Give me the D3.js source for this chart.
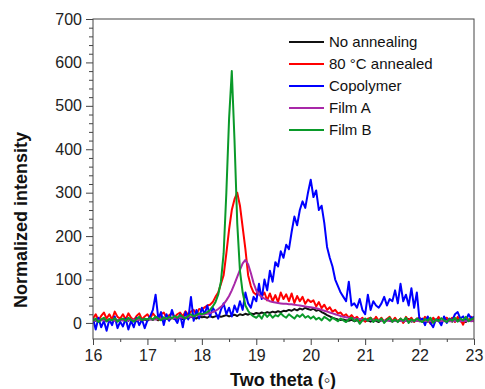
<!DOCTYPE html>
<html>
<head>
<meta charset="utf-8">
<script src="https://cdn.jsdelivr.net/npm/d3@7"></script>
<style>
  body { margin: 0; background: #fff; }
  svg { display: block; font-family: Arial, "Liberation Sans", sans-serif; }
</style>
</head>
<body>
<div id="chart"></div>
<script>
// two theta from 16 to 23 in steps of 0.05 (141 points)
var twoTheta = d3.range(0, 141).map(function (i) { return +(16 + i * 0.05).toFixed(2); });

var noAnnealing = [
  8, 5, 10, 6, 9, 4, 8, 7, 10, 5, 8,
  6, 9, 5, 10, 7, 4, 9, 6, 8, 5,
  9, 7, 10, 6, 11, 8, 10, 7, 12, 9,
  10, 12, 9, 13, 11, 14, 12, 10, 15, 13,
  14, 12, 16, 13, 15, 17, 14, 16, 18, 15,
  17, 19, 16, 20, 18, 21, 19, 22, 20, 23,
  21, 24, 22, 25, 23, 26, 24, 27, 25, 28,
  27, 30, 28, 32, 29, 33, 31, 35, 32, 30,
  33, 28, 30, 25, 22, 18, 15, 12, 10, 8,
  7, 8, 6, 5, 7, 4, 6, 5, 7, 4,
  6, 3, 8, 5, 2, 7, 4, 9, 5, 3,
  7, 4, 8, 2, 6, 9, 3, 5, 7, 4,
  6, 8, 3, 5, 9, 4, 7, 2, 6, 8,
  5, 3, 7, 9, 4, 6, 2, 8, 5, 7
];

var annealed80 = [
  10, 20, 6, 16, 24, 10, 20, 8, 26, 14, 10,
  20, 8, 22, 12, 6, 16, 22, 8, 15, 20,
  10, 22, 14, 8, 20, 24, 12, 18, 22, 14,
  20, 24, 15, 27, 18, 26, 30, 20, 32, 30,
  36, 40, 42, 48, 60, 70, 90, 110, 160, 215,
  260, 285, 300, 270, 220, 170, 110, 85, 70, 65,
  78, 62, 70, 52, 68, 50, 64, 48, 70, 55,
  66, 50, 68, 46, 62, 50, 60, 44, 54, 48,
  52, 38, 48, 34, 42, 30, 36, 26, 30, 22,
  24, 16, 20, 12, 18, 10, 14, 6, 12, 3,
  10, 12, 4, 14, 5, 12, 2, 9, 14, 4,
  12, 3, 10, 0, 14, 5, 12, 2, 10, 12,
  4, 14, 8, -2, 12, 5, 14, 2, 9, 12,
  5, 12, 2, 14, 8, -4, 12, 5, 14, 2
];

var copolymer = [
  10, -15, 12, -10, 5, -18, 8, -5, 15, -12, 3,
  -8, 10, -15, 5, -10, 12, -5, 8, -12, 6,
  15, 30, 65, 10, 25, -5, 20, 5, 30, 10,
  0, 20, -10, 25, 8, 60, 5, 30, 10, 35,
  20, 40, 15, 35, 25, 10, 30, 45, 20, 35,
  15, 40, 25, 50, 30, 70, 45, 35, 60, 50,
  90, 55, 100, 75, 120, 95, 140, 130, 165, 150,
  180, 170, 210, 245, 225, 260, 280, 265, 300, 330,
  290, 305, 260, 270, 230, 175, 150, 130, 100, 85,
  70, 60, 50, 95, 40, 45, 35, 55, 30, 20,
  65, 30, 50, 40, 35, 45, 60, 40, 55, 50,
  75, 45, 90, 50, 65, 40, 80, 35, 70, 5,
  10, -5, 15, 0, -10, 8, 5, -5, 15, 0,
  10, 5, 20, 25, 10, 15, 5, 20, 10, 15
];

var filmA = [
  5, 6, 5, 7, 6, 5, 6, 7, 5, 6, 7,
  6, 7, 6, 8, 7, 6, 8, 7, 8, 9,
  8, 9, 8, 10, 9, 10, 11, 10, 11, 12,
  12, 13, 12, 14, 15, 14, 16, 17, 18, 19,
  20, 21, 23, 25, 28, 32, 37, 43, 52, 62,
  75, 90, 106, 122, 137, 145, 135, 115, 92, 75,
  65, 60, 56, 53, 50, 48, 47, 46, 45, 44,
  44, 43, 43, 42, 41, 40, 39, 38, 37, 36,
  35, 34, 32, 30, 28, 26, 24, 22, 20, 18,
  16, 14, 13, 12, 11, 10, 9, 9, 8, 8,
  7, 7, 6, 6, 6, 5, 5, 5, 5, 5,
  5, 4, 5, 4, 5, 4, 5, 4, 5, 4,
  4, 5, 4, 5, 4, 5, 4, 5, 4, 5,
  4, 5, 4, 5, 4, 5, 4, 5, 4, 5
];

var filmB = [
  5, 10, 2, 8, 12, 4, 9, 6, 11, 3, 8,
  10, 5, 12, 7, 3, 9, 14, 6, 10, 8,
  12, 8, 15, 10, 6, 13, 9, 14, 11, 16,
  12, 18, 14, 10, 16, 20, 15, 18, 22, 20,
  22, 25, 30, 38, 48, 65, 95, 160, 300, 470,
  580, 420, 230, 120, 70, 40, 28, 20, 15, 12,
  18, 10, 22, 14, 20, 12, 18, 15, 22, 16,
  12, 20, 15, 10, 18, 14, 20, 12, 16, 10,
  15, 8, 12, 6, 14, 10, 5, 12, 8, 4,
  10, 6, 2, 8, 12, 4, 9, -2, 6, 10,
  5, 12, 2, 8, 4, 10, 0, 7, 12, 3,
  8, 2, 10, 5, 12, 0, 8, 4, 10, 6,
  2, 9, 5, 12, 0, 8, 4, 11, 6, 2,
  9, 5, 12, 3, 10, 6, 14, 4, 8, 12
];

var seriesNames = ["No annealing", "80 \u00B0C annealed", "Copolymer", "Film A", "Film B"];
var seriesValues = [noAnnealing, annealed80, copolymer, filmA, filmB];
var seriesColors = ["#111111", "#ff0000", "#0000ff", "#a828a8", "#0a9a2a"];

var xTicks = [16, 17, 18, 19, 20, 21, 22, 23];
var yTicks = [0, 100, 200, 300, 400, 500, 600, 700];

var width = 485, height = 389;
var margin = { top: 19, right: 11, bottom: 50, left: 93 };

var svg = d3.select("#chart")
  .append("svg")
  .attr("width", width)
  .attr("height", height);

var x = d3.scaleLinear().domain([16, 23]).range([margin.left, width - margin.right]);
var y = d3.scaleLinear().domain([-37, 700]).range([height - margin.bottom, margin.top]);

// clip so lines stay in the frame
svg.append("clipPath").attr("id", "plotclip")
  .append("rect")
  .attr("x", margin.left).attr("y", margin.top)
  .attr("width", width - margin.left - margin.right)
  .attr("height", height - margin.top - margin.bottom);

var line = d3.line()
  .x(function (d) { return x(d[0]); })
  .y(function (d) { return y(d[1]); });

var plot = svg.append("g").attr("clip-path", "url(#plotclip)");
seriesValues.forEach(function (vals, i) {
  plot.append("path")
    .datum(twoTheta.map(function (t, j) { return [t, vals[j]]; }))
    .attr("d", line)
    .attr("fill", "none")
    .attr("stroke", seriesColors[i])
    .attr("stroke-width", 2)
    .attr("stroke-linejoin", "round");
});

// frame
svg.append("rect")
  .attr("x", margin.left).attr("y", margin.top)
  .attr("width", width - margin.left - margin.right)
  .attr("height", height - margin.top - margin.bottom)
  .attr("fill", "none")
  .attr("stroke", "#444")
  .attr("stroke-width", 1);

// minor ticks
var xMinor = svg.append("g")
  .attr("transform", "translate(0," + (height - margin.bottom) + ")")
  .call(d3.axisBottom(x).tickValues(d3.range(16.5, 23, 1)).tickSize(3).tickFormat(""));
var yMinor = svg.append("g")
  .attr("transform", "translate(" + margin.left + ",0)")
  .call(d3.axisLeft(y).tickValues(d3.range(0, 701, 20).filter(function (v) { return v % 100 !== 0; })).tickSize(4).tickFormat(""));

// major ticks
var xAxis = svg.append("g")
  .attr("transform", "translate(0," + (height - margin.bottom) + ")")
  .call(d3.axisBottom(x).tickValues(xTicks).tickSize(6).tickPadding(5).tickFormat(d3.format("d")));
var yAxis = svg.append("g")
  .attr("transform", "translate(" + margin.left + ",0)")
  .call(d3.axisLeft(y).tickValues(yTicks).tickSize(7).tickPadding(4).tickFormat(d3.format("d")));

[xMinor, yMinor, xAxis, yAxis].forEach(function (g) {
  g.select(".domain").remove();
  g.selectAll(".tick line").attr("stroke", "#444");
  g.selectAll("text").attr("font-size", 16).attr("fill", "#222").attr("font-family", "Arial, 'Liberation Sans', sans-serif");
});

// axis titles
svg.append("text")
  .attr("x", 283).attr("y", 386)
  .attr("text-anchor", "middle")
  .attr("font-size", 18).attr("font-weight", "bold").attr("fill", "#111")
  .text("Two theta (\u25E6)");

svg.append("text")
  .attr("transform", "translate(27,220) rotate(-90)")
  .attr("text-anchor", "middle")
  .attr("font-size", 18).attr("font-weight", "bold").attr("fill", "#111")
  .text("Normalized intensity");

// legend
var legend = svg.append("g");
seriesNames.forEach(function (name, i) {
  var ly = 42 + i * 22;
  legend.append("line")
    .attr("x1", 289).attr("x2", 324)
    .attr("y1", ly).attr("y2", ly)
    .attr("stroke", seriesColors[i]).attr("stroke-width", 2);
  legend.append("text")
    .attr("x", 329).attr("y", ly + 5)
    .attr("font-size", 15).attr("fill", "#111")
    .text(name);
});
</script>
</body>
</html>
